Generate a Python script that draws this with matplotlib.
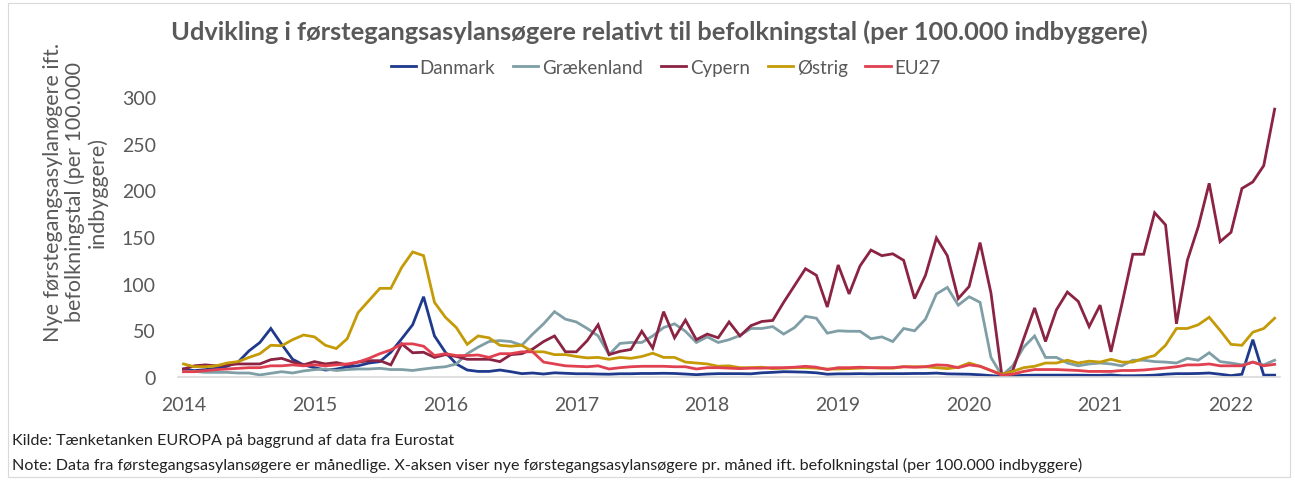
import numpy as np
import matplotlib
matplotlib.use('Agg')
import matplotlib.pyplot as plt
from matplotlib.patches import Rectangle

plt.rcParams['font.family'] = ['Lato', 'DejaVu Sans']

# maanedlige data, jan 2014 - maj 2022
danmark = [8.6, 6.8, 7.9, 9.3, 11.5, 16, 28, 37, 52, 35, 19, 13, 10, 7.5, 8.5, 11, 12, 15, 16.5, 26.5,
           41, 56, 86, 44, 26.5, 14, 7.5, 6, 6, 7.5, 5.7, 3.6, 4.3, 3.2, 4.5, 4, 3.5, 3.5, 3.2, 3,
           3.5, 3.5, 3.8, 3.8, 4, 3.8, 3.2, 2.5, 3.2, 3.6, 3.6, 3.6, 3.4, 4.5, 5, 5.7, 5.5, 5.2, 4.5, 3,
           3.4, 3.4, 3.6, 3.4, 3.6, 3.6, 3.6, 3.8, 3.8, 4.2, 3.4, 3.2, 3, 2.4, 1.5, 0.7, 1.2, 1.8, 2, 2,
           2, 2, 2, 1.8, 1.8, 2.2, 1.4, 1.4, 1.6, 2, 3, 3.6, 3.6, 3.8, 4.3, 3, 1.5, 3, 40, 2, 2]
graekenland = [6, 6, 5, 5, 5, 4.3, 4.3, 2.2, 4, 5.7, 4.3, 6.5, 7.9, 8.6, 7, 8, 8.6, 8.6, 9.3, 8,
               8, 7, 8.6, 10, 11, 14, 25, 32, 38, 39, 38, 34, 46, 57, 70, 62, 59, 52, 44, 24,
               36, 37, 37, 44, 53, 57, 49, 37, 43, 37, 40, 44.5, 52, 52, 54, 46, 53, 65, 63, 47,
               49.5, 49, 49, 41, 43, 38, 52, 49.5, 62, 89, 96, 77, 86, 80, 21, 1.5, 12, 32, 44, 21,
               21, 15, 12, 14, 15, 14, 12, 18, 18, 16.5, 16, 15, 20, 18, 26, 16.5, 15, 13, 16, 13, 18]
cypern = [8.6, 12, 13, 12, 13, 14, 14, 14, 18.6, 20, 16, 13, 16.5, 14, 15.5, 13, 16, 17.5, 17.5, 13,
          35.5, 26, 26.5, 21, 24, 22, 19, 19, 19, 16.5, 24, 25, 30, 38, 44, 27, 27, 39, 56, 24,
          27.5, 29.5, 49, 31, 70, 42, 61, 40, 46, 42, 59, 44, 55, 59.5, 60.6, 80, 98, 116, 109, 75,
          120, 89, 119, 136, 130, 132, 125, 84, 109, 149, 130, 84, 97, 144, 90, 1.5, 7, 41, 74, 38,
          72, 91, 81, 54, 77, 27, 78, 131.5, 131.5, 176, 163, 57, 125, 161, 207.5, 145, 155, 202, 209, 226.5, 287]
oestrig = [14, 11, 11, 12, 15, 16.5, 21, 25, 34, 33.5, 40, 45, 43, 34, 30.5, 41, 69, 82, 95, 95,
           117.5, 134, 130, 80, 64, 53, 35, 44, 42, 34, 33, 34, 27, 27, 24, 24, 22, 20.5, 21, 19,
           21, 20, 22, 25.5, 21, 21, 16, 15, 14, 11.5, 12, 10, 10, 10.5, 9, 9.5, 10, 10, 9.5, 8.6,
           8.6, 9, 9.5, 10, 9.5, 9.5, 11, 11, 11, 10, 9, 10.5, 15, 11.5, 7, 3, 6, 10, 11.5, 15,
           15, 18, 15, 17, 16, 19, 16, 16, 20, 23, 34, 52, 52, 56, 64, 50, 35, 34, 48, 52, 63]
eu27 = [5.7, 5.7, 6.8, 7.9, 8.6, 9.3, 10, 10, 12, 12, 13, 12, 13, 12, 13, 14, 16, 20, 25, 29,
        35.5, 35.5, 33, 23, 25, 23, 23, 23.6, 21, 25, 25, 27, 27, 16, 14, 12, 11.5, 11, 12, 8.6,
        10, 11, 11.5, 11.5, 11.5, 11, 11, 8.6, 10, 10, 9.5, 9, 9.5, 9.5, 10, 10, 10.5, 11.5, 10.5, 8,
        10, 10, 10.5, 10, 10, 10, 11, 10.5, 11, 13, 12.5, 10, 13, 11.5, 7, 2, 3, 6, 8, 8,
        8, 7.5, 7, 6, 6, 6, 7, 7, 7.5, 8.6, 9.7, 11, 13, 13, 14, 12, 12, 12, 16, 12, 13.6]

serier = ['Danmark', 'Grækenland', 'Cypern', 'Østrig', 'EU27']
farver = ['#1f3a8c', '#7f9ea6', '#8b2343', '#c49a06', '#e0404f']
aar = ['2014', '2015', '2016', '2017', '2018', '2019', '2020', '2021', '2022']

maaned = np.arange(len(danmark))
data = [danmark, graekenland, cypern, oestrig, eu27]

fig = plt.figure(figsize=(12.95, 4.81), dpi=100)
fig.patches.append(Rectangle((0.006, 0.006), 0.99, 0.985, transform=fig.transFigure,
                             fill=False, edgecolor='#d9d9d9', lw=0.8))
ax = fig.add_axes([0.1375, 0.2141, 0.851, 0.5822])

for navn, y, c in zip(serier, data, farver):
    ax.plot(maaned, y, color=c, lw=2.0, label=navn, solid_joinstyle='miter')

ax.set_xlim(-0.5, len(danmark) - 0.5)
ax.set_ylim(0, 300)
ax.set_yticks(range(0, 301, 50))
ax.set_xticks(range(0, 97, 12))
ax.set_xticklabels(aar)
for s in ['top', 'right', 'left']:
    ax.spines[s].set_visible(False)
ax.spines['bottom'].set_color('#d9d9d9')
ax.spines['bottom'].set_linewidth(1.2)
ax.tick_params(length=0, labelsize=14, colors='#595959')
ax.tick_params(axis='y', pad=16)
ax.tick_params(axis='x', pad=14)

fig.text(0.509, 0.933, 'Udvikling i førstegangsasylansøgere relativt til befolkningstal (per 100.000 indbyggere)',
         ha='center', va='center', fontsize=18.3, fontweight='bold', color='#595959')
fig.legend(loc='center', bbox_to_anchor=(0.514, 0.858), ncol=5, frameon=False, fontsize=13.5,
           labelcolor='#595959', handlelength=1.35, columnspacing=0.95, handletextpad=0.2)
fig.text(0.058, 0.6, 'Nye førstegangsasylanøgere ift.\nbefolkningstal (per 100.000\nindbyggere)',
         rotation=90, ha='center', va='center', multialignment='center', fontsize=15.5,
         color='#595959', linespacing=1.1)

fig.text(0.009, 0.083, 'Kilde: Tænketanken EUROPA på baggrund af data fra Eurostat',
         fontsize=11.6, va='center', color='#222222')
fig.text(0.009, 0.033, 'Note: Data fra førstegangsasylansøgere er månedlige. X-aksen viser nye '
         'førstegangsasylansøgere pr. måned ift. befolkningstal (per 100.000 indbyggere)',
         fontsize=11.6, va='center', color='#222222')

fig.savefig('out.png', dpi=100)
